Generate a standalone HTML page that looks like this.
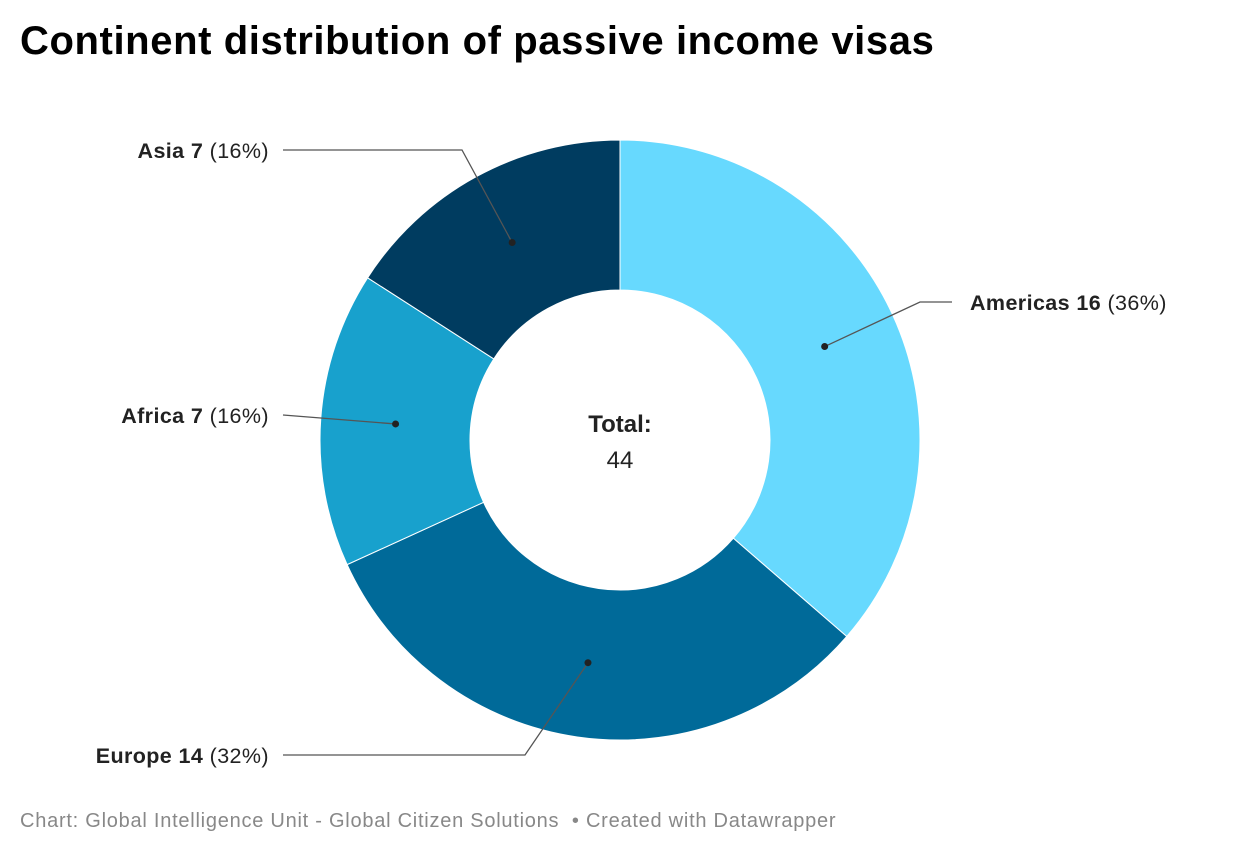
<!DOCTYPE html>
<html><head><meta charset="utf-8"><style>
body{margin:0;background:#fff;width:1240px;height:856px;overflow:hidden;font-family:"Liberation Sans",Arial,sans-serif}
h1{position:absolute;left:20px;top:19px;margin:0;font-size:40px;font-weight:bold;color:#000;letter-spacing:0.6px;white-space:nowrap}
.foot{position:absolute;left:20px;top:810px;font-size:20px;color:#888;letter-spacing:0.75px;white-space:nowrap}
svg{position:absolute;left:0;top:0}
</style></head><body>
<h1>Continent distribution of passive income visas</h1>
<svg id="c" width="1240" height="856"></svg>
<div class="foot">Chart: Global Intelligence Unit - Global Citizen Solutions &nbsp;• Created with Datawrapper</div>
<script>
const categories=["Americas","Europe","Africa","Asia"];
const values=[16,14,7,7];
const colors=["#67d9fe","#006a99","#18a1cd","#003c60"];
const svg=document.getElementById('c');const NS="http://www.w3.org/2000/svg";
const cx=620,cy=440,R=300,r=150,mr=225;
const total=values.reduce((a,b)=>a+b,0);
function pt(a,rad){return [cx+rad*Math.sin(a),cy-rad*Math.cos(a)];}
function mk(t,at){const e=document.createElementNS(NS,t);for(const k in at)e.setAttribute(k,at[k]);svg.appendChild(e);return e;}
let acc=0;
const labelPos=[{side:'r',x:960,y:302,bx:920},{side:'l',x:283,y:755,bx:525},{side:'l',x:283,y:415,bx:null},{side:'l',x:283,y:150,bx:462}];
values.forEach((v,i)=>{
 const a0=acc/total*2*Math.PI;acc+=v;const a1=acc/total*2*Math.PI;
 const [x0,y0]=pt(a0,R),[x1,y1]=pt(a1,R),[x2,y2]=pt(a1,r),[x3,y3]=pt(a0,r);
 const lg=(a1-a0)>Math.PI?1:0;
 const p=mk('path',{d:`M${x0},${y0}A${R},${R} 0 ${lg} 1 ${x1},${y1}L${x2},${y2}A${r},${r} 0 ${lg} 0 ${x3},${y3}Z`,fill:colors[i],stroke:'#fff','stroke-width':1});
 
 
});
acc=0;
values.forEach((v,i)=>{
 const am=(acc+v/2)/total*2*Math.PI;acc+=v;
 const [dx,dy]=pt(am,mr);const L=labelPos[i];
 let pts=`${dx},${dy} `+(L.bx!==null?`${L.bx},${L.y} `:'')+`${L.side=='r'?L.x-8:L.x},${L.y}`;
 const pl=mk('polyline',{points:pts,fill:'none',stroke:'#555','stroke-width':1.3});
 
 
 const c=mk('circle',{cx:dx,cy:dy,r:3.5,fill:'#222'});
 
 
 const t=mk('text',{x:L.side=='r'?L.x+10:L.x-14,y:L.y+8,'font-size':21.5,'letter-spacing':0.4,fill:'#222','text-anchor':L.side=='r'?'start':'end'});
 
 
 t.innerHTML=`<tspan font-weight="bold">${categories[i]} ${v}</tspan> (${Math.round(v/total*100)}%)`;
});
const t1=mk('text',{x:cx,y:432,'font-size':24,'font-weight':'bold','text-anchor':'middle',fill:'#222'});t1.textContent='Total:';


const t2=mk('text',{x:cx,y:468,'font-size':24,'text-anchor':'middle',fill:'#222'});t2.textContent=total;


</script>
</body></html>
